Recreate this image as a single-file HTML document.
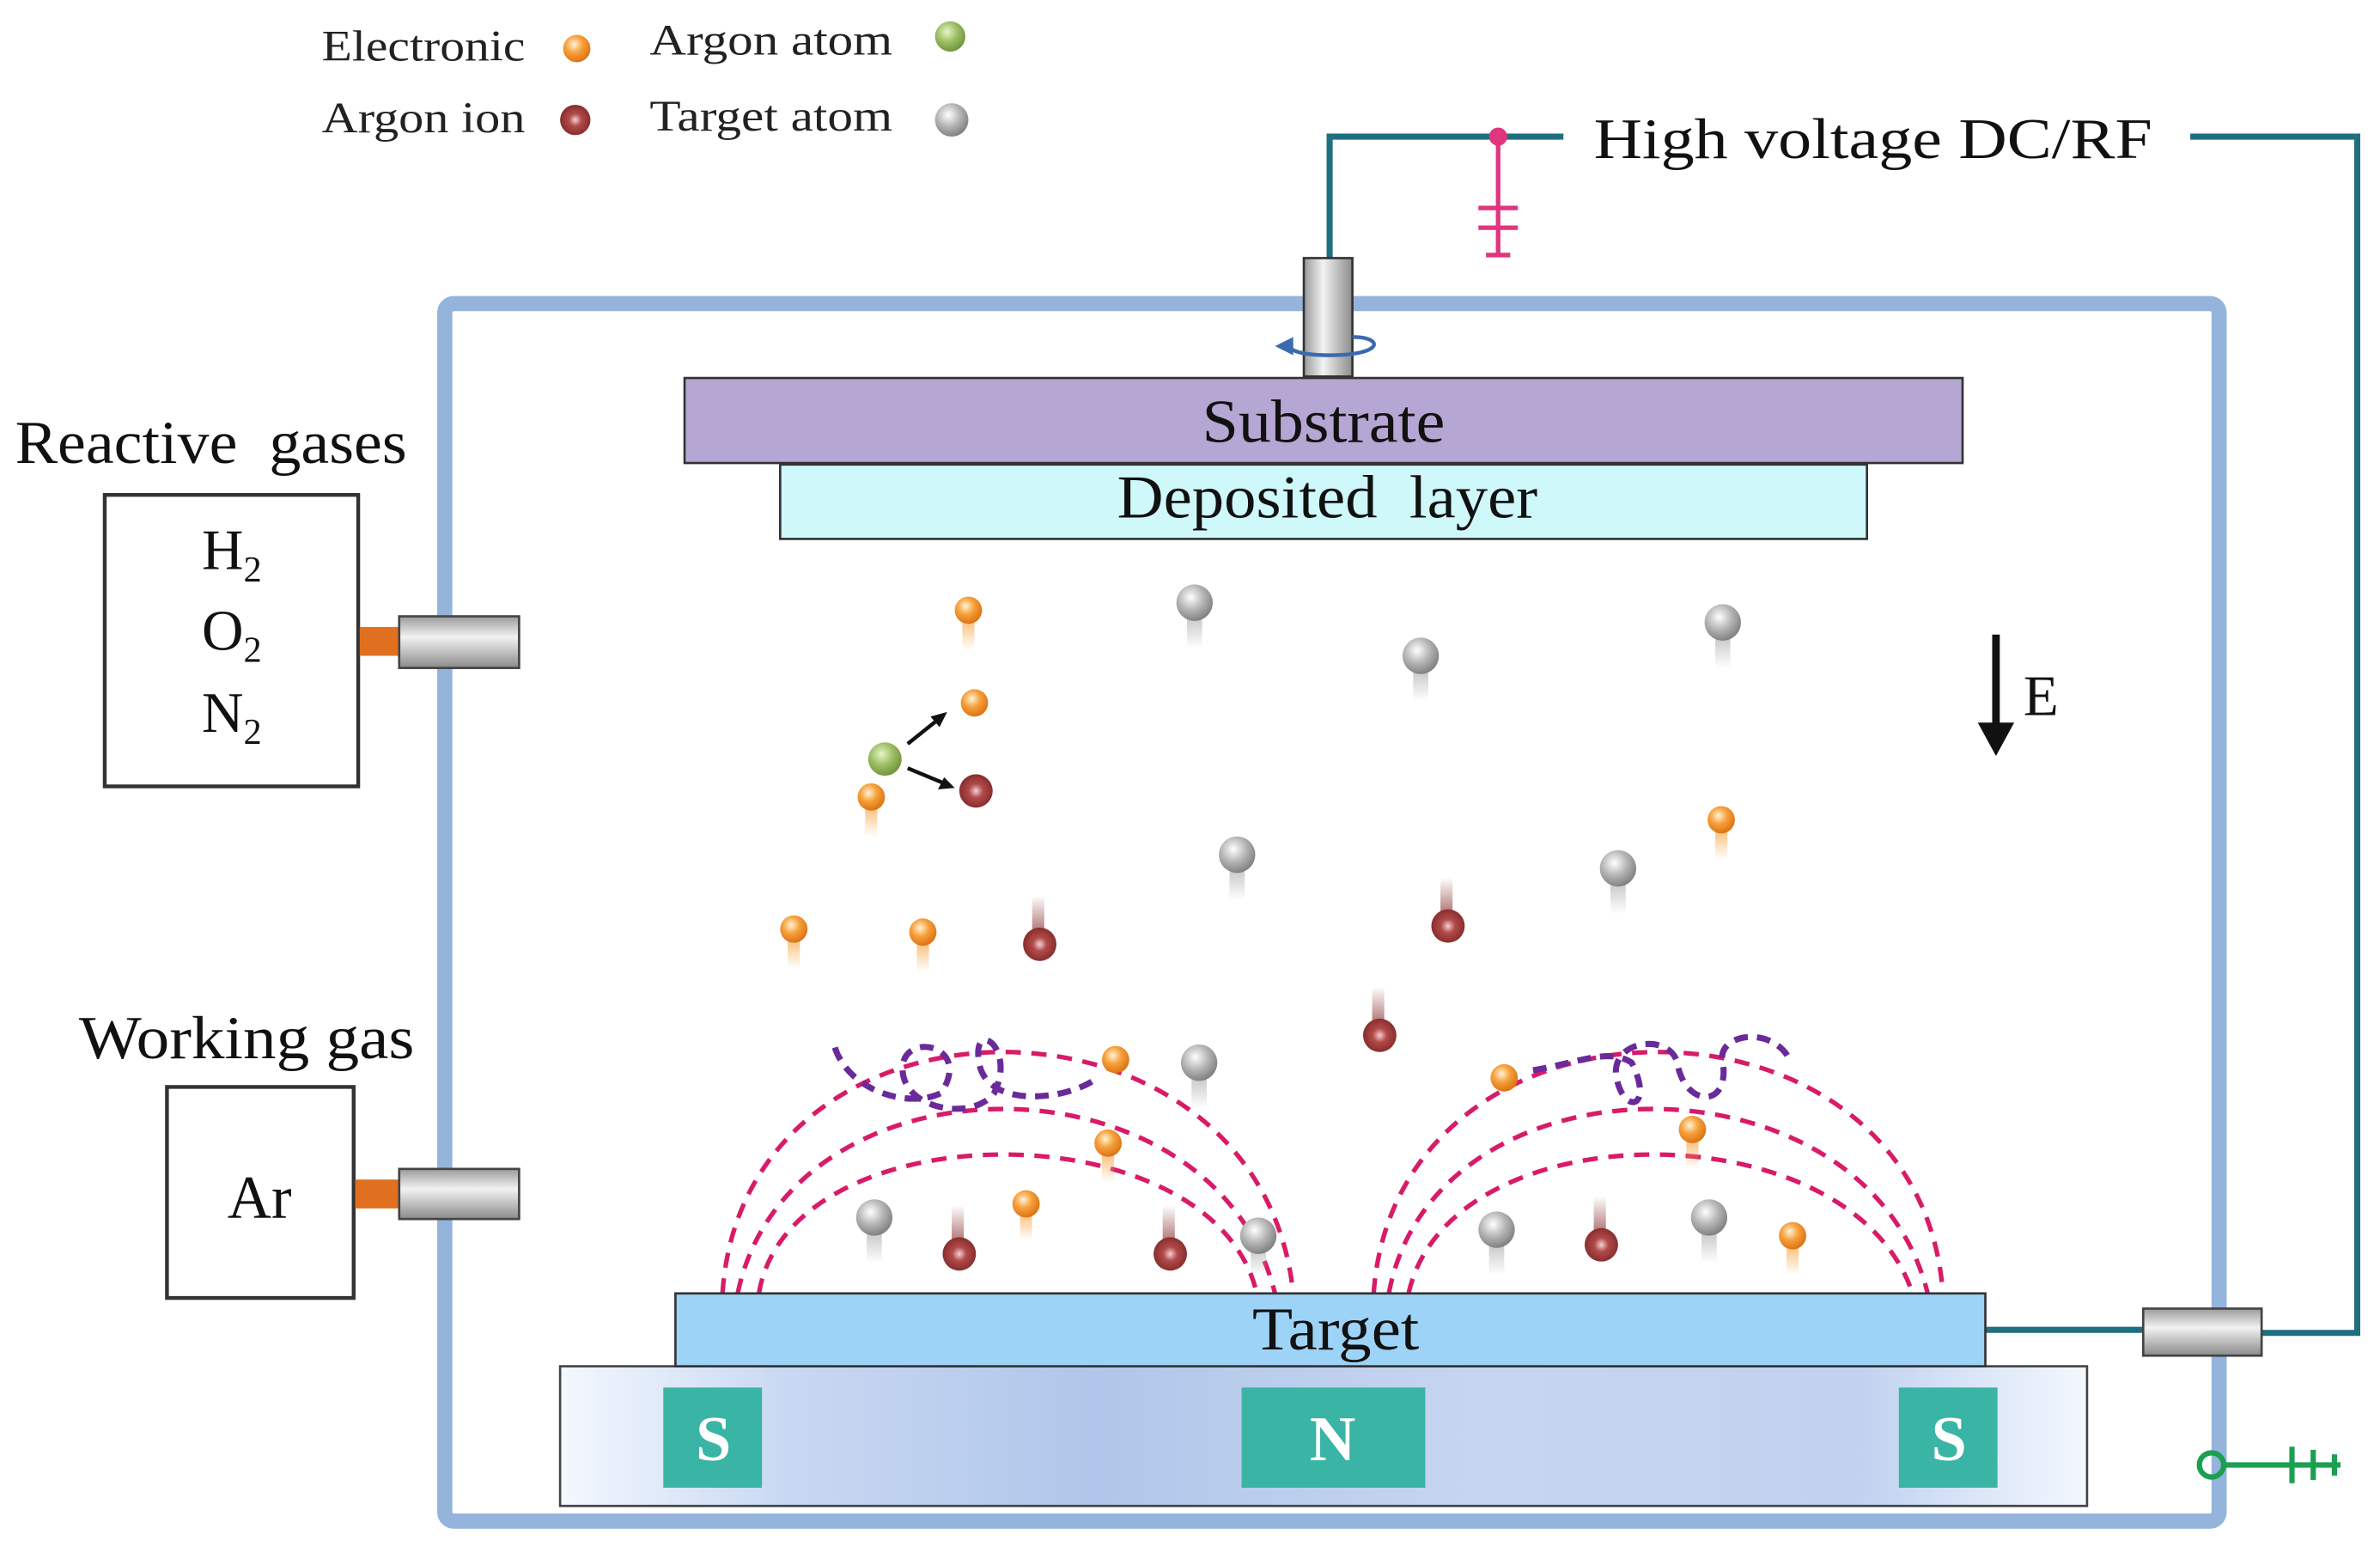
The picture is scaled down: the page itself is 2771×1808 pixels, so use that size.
<!DOCTYPE html>
<html><head><meta charset="utf-8"><style>html,body{margin:0;padding:0;background:#fff}svg{display:block}</style></head>
<body>
<svg width="2771" height="1808" viewBox="0 0 1568 1023" preserveAspectRatio="none" xmlns="http://www.w3.org/2000/svg" font-family="Liberation Serif, serif">
<defs>
<radialGradient id="go" cx="0.4" cy="0.35" r="0.7"><stop offset="0" stop-color="#fff3d8"/><stop offset="0.45" stop-color="#f6a03a"/><stop offset="1" stop-color="#d96d10"/></radialGradient>
<radialGradient id="gg" cx="0.4" cy="0.35" r="0.7"><stop offset="0" stop-color="#ffffff"/><stop offset="0.5" stop-color="#b5b5b5"/><stop offset="1" stop-color="#7a7a7a"/></radialGradient>
<radialGradient id="gr" cx="0.5" cy="0.5" r="0.6"><stop offset="0" stop-color="#f4d0d0"/><stop offset="0.35" stop-color="#b24a4a"/><stop offset="1" stop-color="#7a2424"/></radialGradient>
<radialGradient id="gn" cx="0.4" cy="0.35" r="0.7"><stop offset="0" stop-color="#e8f4c8"/><stop offset="0.5" stop-color="#9bbd62"/><stop offset="1" stop-color="#6d8f3a"/></radialGradient>
<linearGradient id="to" x1="0" y1="0" x2="0" y2="1"><stop offset="0" stop-color="#f6a03a" stop-opacity="0.9"/><stop offset="1" stop-color="#f6a03a" stop-opacity="0"/></linearGradient>
<linearGradient id="tg" x1="0" y1="0" x2="0" y2="1"><stop offset="0" stop-color="#999" stop-opacity="0.8"/><stop offset="1" stop-color="#999" stop-opacity="0"/></linearGradient>
<linearGradient id="tr" x1="0" y1="1" x2="0" y2="0"><stop offset="0" stop-color="#8a3030" stop-opacity="0.9"/><stop offset="1" stop-color="#8a3030" stop-opacity="0"/></linearGradient>
<linearGradient id="mag" x1="0" y1="0" x2="1" y2="0"><stop offset="0" stop-color="#f4f8fe"/><stop offset="0.15" stop-color="#c8d8f2"/><stop offset="0.35" stop-color="#b0c6ea"/><stop offset="0.6" stop-color="#c6d6f0"/><stop offset="0.85" stop-color="#c0d2f0"/><stop offset="1" stop-color="#f4f8fe"/></linearGradient>
<linearGradient id="cyl" x1="0" y1="0" x2="0" y2="1"><stop offset="0" stop-color="#9a9a9a"/><stop offset="0.4" stop-color="#f2f2f2"/><stop offset="1" stop-color="#8a8a8a"/></linearGradient>
<linearGradient id="cylv" x1="0" y1="0" x2="1" y2="0"><stop offset="0" stop-color="#9a9a9a"/><stop offset="0.4" stop-color="#f2f2f2"/><stop offset="1" stop-color="#8a8a8a"/></linearGradient>
</defs>

<!-- legend -->
<g font-size="29" fill="#222" lengthAdjust="spacingAndGlyphs">
<text x="212" y="40" textLength="134" lengthAdjust="spacingAndGlyphs">Electronic</text>
<text x="428" y="36" textLength="160" lengthAdjust="spacingAndGlyphs">Argon atom</text>
<text x="212" y="87" textLength="134" lengthAdjust="spacingAndGlyphs">Argon ion</text>
<text x="428" y="86" textLength="160" lengthAdjust="spacingAndGlyphs">Target atom</text>
</g>
<circle cx="380" cy="32" r="9" fill="url(#go)"/>
<circle cx="626" cy="24" r="10" fill="url(#gn)"/>
<circle cx="379" cy="79" r="10" fill="url(#gr)"/>
<circle cx="627" cy="79" r="11" fill="url(#gg)"/>

<!-- wires -->
<g fill="none" stroke="#1f6f80" stroke-width="4">
<polyline points="876,200 876,90 1030,90"/>
<polyline points="1443,90 1553,90 1553,878 1490,878"/>
<line x1="1308" y1="876" x2="1412" y2="876"/>
</g>
<text x="1050" y="104" font-size="38" fill="#111" textLength="368" lengthAdjust="spacingAndGlyphs">High voltage DC/RF</text>
<!-- pink ground -->
<g stroke="#e0357f" stroke-width="3">
<line x1="987" y1="90" x2="987" y2="168"/>
<line x1="974" y1="137" x2="1000" y2="137"/>
<line x1="974" y1="150" x2="1000" y2="150"/>
<line x1="979" y1="168" x2="995" y2="168"/>
</g>
<circle cx="987" cy="90" r="6" fill="#e0357f"/>

<!-- chamber -->
<rect x="293" y="200" width="1169" height="802" rx="6" fill="none" stroke="#94b4dc" stroke-width="10"/>

<!-- top feedthrough -->
<rect x="859" y="170" width="32" height="78" fill="url(#cylv)" stroke="#333" stroke-width="1.5"/>
<path d="M891,222 C912,222 912,234 876,234 C855,234 850,230 848,228" fill="none" stroke="#3a6ab0" stroke-width="2.5"/>
<path d="M840,228 L852,222 L852,234 Z" fill="#3a6ab0"/>

<!-- substrate -->
<rect x="451" y="249" width="842" height="56" fill="#b5a6d3" stroke="#333" stroke-width="1.5"/>
<text x="792" y="291" font-size="40" fill="#111" textLength="160" lengthAdjust="spacingAndGlyphs">Substrate</text>
<rect x="514" y="306" width="716" height="49" fill="#cff8fb" stroke="#333" stroke-width="1.5"/>
<text x="736" y="341" font-size="40" fill="#111" textLength="277" lengthAdjust="spacingAndGlyphs">Deposited&#160; layer</text>

<!-- gas boxes -->
<text x="10" y="305" font-size="40" fill="#111" textLength="258" lengthAdjust="spacingAndGlyphs">Reactive&#160; gases</text>
<rect x="69" y="326" width="167" height="192" fill="#fff" stroke="#333" stroke-width="2.5"/>
<g font-size="38" fill="#111">
<text x="133" y="375">H<tspan font-size="24" dy="8">2</tspan></text>
<text x="133" y="428">O<tspan font-size="24" dy="8">2</tspan></text>
<text x="133" y="482">N<tspan font-size="24" dy="8">2</tspan></text>
</g>
<rect x="237" y="413" width="27" height="19" fill="#e07020"/>
<rect x="263" y="406" width="79" height="34" fill="url(#cyl)" stroke="#444" stroke-width="1.5"/>

<text x="52" y="697" font-size="40" fill="#111" textLength="221" lengthAdjust="spacingAndGlyphs">Working gas</text>
<rect x="110" y="716" width="123" height="139" fill="#fff" stroke="#333" stroke-width="2.5"/>
<text x="171" y="802" font-size="40" text-anchor="middle" fill="#111">Ar</text>
<rect x="234" y="777" width="30" height="19" fill="#e07020"/>
<rect x="263" y="770" width="79" height="33" fill="url(#cyl)" stroke="#444" stroke-width="1.5"/>

<!-- right connector -->
<rect x="1412" y="862" width="78" height="31" fill="url(#cyl)" stroke="#444" stroke-width="1.5"/>
<!-- green ground -->
<g stroke="#1aa050" stroke-width="3.5" fill="none">
<circle cx="1457" cy="965" r="8"/>
<line x1="1465" y1="965" x2="1542" y2="965"/>
<line x1="1510" y1="953" x2="1510" y2="977"/>
<line x1="1524" y1="955" x2="1524" y2="975"/>
<line x1="1538" y1="958" x2="1538" y2="972"/>
</g>

<!-- E arrow -->
<line x1="1315" y1="418" x2="1315" y2="482" stroke="#111" stroke-width="5"/>
<path d="M1303,476 L1327,476 L1315,498 Z" fill="#111"/>
<text x="1333" y="471" font-size="38" fill="#111">E</text>

<!-- magnetic field arcs -->
<g fill="none" stroke="#d81b68" stroke-width="3" stroke-dasharray="10,7">
<path d="M476,852 C490,640 830,640 852,852"/>
<path d="M486,852 C520,690 800,690 840,852"/>
<path d="M500,852 C520,730 800,730 828,852"/>
<path d="M905,852 C920,640 1265,640 1280,852"/>
<path d="M915,852 C945,690 1230,690 1270,852"/>
<path d="M928,852 C955,730 1220,730 1260,852"/>
</g>
<!-- purple loops -->
<g fill="none" stroke="#6a2a9a" stroke-width="4" stroke-dasharray="9,6">
<path d="M550,690 C560,720 600,730 620,720 C640,690 600,680 595,700 C590,730 640,740 655,720 C670,690 640,670 645,700 C650,730 700,725 720,712"/>
<path d="M1010,705 C1040,700 1060,690 1075,700 C1090,730 1070,735 1065,710 C1060,685 1100,680 1105,700 C1110,730 1140,730 1135,700 C1130,680 1170,675 1180,700"/>
</g>

<!-- target & magnets -->
<rect x="369" y="900" width="1006" height="92" fill="url(#mag)" stroke="#444" stroke-width="1.5"/>
<rect x="445" y="852" width="863" height="48" fill="#9ed3f8" stroke="#333" stroke-width="1.5"/>
<text x="825" y="889" font-size="40" fill="#111" textLength="110" lengthAdjust="spacingAndGlyphs">Target</text>
<g fill="#3ab4a4"><rect x="437" y="914" width="65" height="66"/><rect x="818" y="914" width="121" height="66"/><rect x="1251" y="914" width="65" height="66"/></g>
<g font-size="42" font-weight="bold" fill="#fff" text-anchor="middle">
<text x="470" y="962">S</text><text x="878" y="962">N</text><text x="1284" y="962">S</text>
</g>

<!-- particles -->
<g>
<g fill="url(#to)">
<rect x="634" y="402" width="8" height="26"/><rect x="570" y="525" width="8" height="26"/><rect x="519" y="612" width="8" height="26"/><rect x="604" y="614" width="8" height="26"/><rect x="726" y="753" width="8" height="26"/><rect x="672" y="793" width="8" height="24"/><rect x="1130" y="540" width="8" height="26"/><rect x="1111" y="744" width="8" height="26"/><rect x="1177" y="814" width="8" height="26"/>
</g>
<g fill="url(#go)">
<circle cx="638" cy="402" r="9"/><circle cx="642" cy="463" r="9"/><circle cx="574" cy="525" r="9"/><circle cx="523" cy="612" r="9"/><circle cx="608" cy="614" r="9"/><circle cx="735" cy="698" r="9"/><circle cx="730" cy="753" r="9"/><circle cx="676" cy="793" r="9"/><circle cx="1134" cy="540" r="9"/><circle cx="1115" cy="744" r="9"/><circle cx="991" cy="710" r="9"/><circle cx="1181" cy="814" r="9"/>
</g>
<g fill="url(#tg)">
<rect x="782" y="397" width="10" height="30"/><rect x="931" y="432" width="10" height="30"/><rect x="1130" y="410" width="10" height="30"/><rect x="810" y="563" width="10" height="30"/><rect x="1061" y="572" width="10" height="30"/><rect x="785" y="700" width="10" height="30"/><rect x="571" y="802" width="10" height="30"/><rect x="824" y="814" width="10" height="26"/><rect x="981" y="810" width="10" height="30"/><rect x="1121" y="802" width="10" height="30"/>
</g>
<g fill="url(#gg)">
<circle cx="787" cy="397" r="12"/><circle cx="936" cy="432" r="12"/><circle cx="1135" cy="410" r="12"/><circle cx="815" cy="563" r="12"/><circle cx="1066" cy="572" r="12"/><circle cx="790" cy="700" r="12"/><circle cx="576" cy="802" r="12"/><circle cx="829" cy="814" r="12"/><circle cx="986" cy="810" r="12"/><circle cx="1126" cy="802" r="12"/>
</g>
<g fill="url(#tr)">
<rect x="680" y="590" width="8" height="32"/><rect x="949" y="578" width="8" height="32"/><rect x="904" y="650" width="8" height="32"/><rect x="627" y="794" width="8" height="32"/><rect x="766" y="794" width="8" height="32"/><rect x="1050" y="788" width="8" height="32"/>
</g>
<g fill="url(#gr)">
<circle cx="643" cy="521" r="11"/><circle cx="685" cy="622" r="11"/><circle cx="954" cy="610" r="11"/><circle cx="909" cy="682" r="11"/><circle cx="632" cy="826" r="11"/><circle cx="771" cy="826" r="11"/><circle cx="1055" cy="820" r="11"/>
</g>
<circle cx="583" cy="500" r="11" fill="url(#gn)"/>
<g stroke="#111" stroke-width="2.5">
<line x1="598" y1="490" x2="618" y2="474"/><line x1="598" y1="506" x2="622" y2="516"/>
</g>
<path d="M624,469 L613,472 L619,479 Z" fill="#111"/>
<path d="M629,519 L618,520 L622,512 Z" fill="#111"/>
</g>
</svg>
</body></html>
